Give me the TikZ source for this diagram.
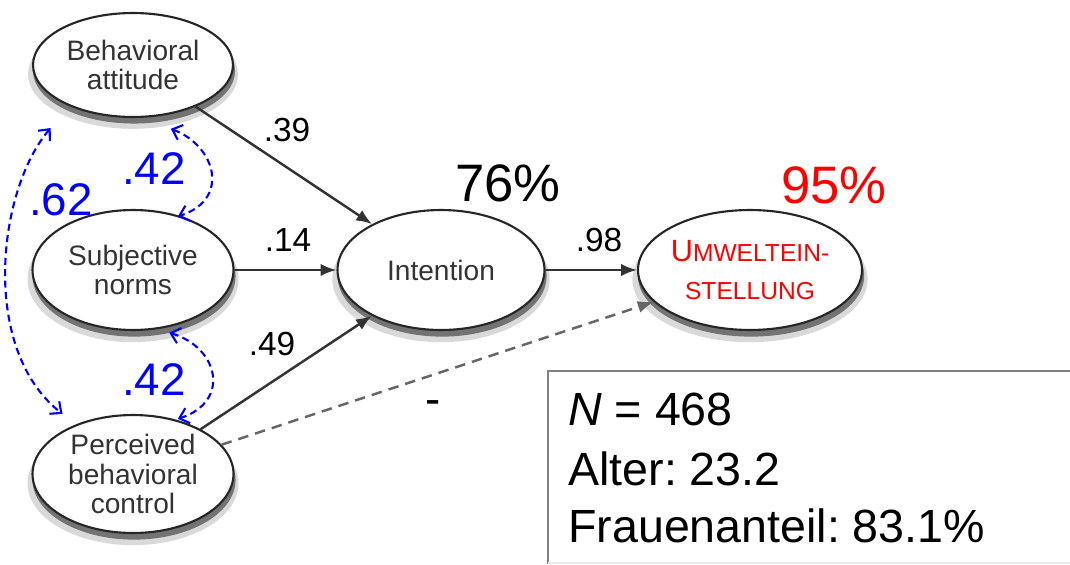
\documentclass[tikz,border=0pt]{standalone}
\usepackage{fontspec}
\setmainfont{Liberation Sans}
\usetikzlibrary{arrows.meta,shapes.geometric,shadows}
\frenchspacing
\begin{document}
\begin{tikzpicture}[x=0.02cm,y=-0.02cm,
  ellip/.style={ellipse, draw=black!85, line width=1.2pt, fill=white, inner sep=0pt, align=center,
    text=black!80, font=\fontsize{16}{17}\selectfont,
    drop shadow={shadow xshift=0pt, shadow yshift=-5pt, shadow scale=1.05, fill=black!15, opacity=1},
    drop shadow={shadow xshift=0.6pt, shadow yshift=-3.4pt, shadow scale=1.01, fill=black!55, opacity=1}},
  solidarrow/.style={draw=black!80, line width=1.4pt, -{Latex[length=9pt,width=7pt]}},
  dasharrow/.style={draw=black!60, line width=1.4pt, dash pattern=on 6pt off 4pt, -{Latex[length=9pt,width=7pt]}},
  corr/.style={draw=blue, line width=1.2pt, dash pattern=on 4pt off 2.5pt,
    {Straight Barb[length=5pt,width=9pt]}-{Straight Barb[length=5pt,width=9pt]}},
  coef/.style={font=\fontsize{19}{22}\selectfont, inner sep=0pt},
  bigcoef/.style={font=\fontsize{26}{30}\selectfont, text=blue, inner sep=0pt},
  rsq/.style={font=\fontsize{30}{34}\selectfont, inner sep=0pt},
  info/.style={font=\fontsize{26.5}{30}\selectfont, inner sep=0pt, anchor=base west}]

\useasboundingbox (0,0) rectangle (1070,564);
\fill[white] (0,0) rectangle (1070,564);

% latent variables
\node[ellip, minimum width=4cm, minimum height=2.08cm] (BA) at (133,65) {Behavioral\\attitude};
\node[ellip, minimum width=4.02cm, minimum height=2.4cm] (SN) at (133,270) {Subjective\\norms};
\node[ellip, minimum width=4.02cm, minimum height=2.36cm] (PBC) at (133,474) {Perceived\\behavioral\\control};
\node[ellip, minimum width=4.14cm, minimum height=2.4cm] (INT) at (441,270) {Intention};
\node[ellip, minimum width=4.1cm, minimum height=2.4cm, text=red, font=\fontsize{14}{22}\selectfont] (UMW) at (750,270)
  {{\fontsize{17.5}{22}\selectfont U}MWELTEIN-\\STELLUNG};

% paths
\draw[solidarrow] (BA) -- (INT);
\draw[solidarrow] (SN) -- (INT);
\draw[solidarrow] (PBC) -- (INT);
\draw[solidarrow] (INT) -- (UMW);
\draw[dasharrow] (PBC) -- (UMW);

% correlations
\draw[corr] ([shift={(3,14)}]BA.-55) .. controls +(45,17) and +(53,-17) .. ([shift={(3,2)}]SN.53);
\draw[corr] ([shift={(3,5)}]SN.-60) .. controls +(50,15) and +(53,-17) .. ([shift={(1,-1)}]PBC.51);
\draw[corr] ([shift={(-26,19)}]BA.-142) .. controls +(-53,62) and +(-83,-65) .. ([shift={(-12,-11)}]PBC.140);

% labels
\node[coef] (l39) at (287,130) {.39};
\node[coef] (l14) at (288,240) {.14};
\node[coef] (l49) at (272,344) {.49};
\node[coef] (l98) at (599,240) {.98};
\node[font=\fontsize{26}{30}\selectfont, inner sep=0pt] (lmin) at (433,408) {-};
\node[bigcoef] (l42a) at (154,169) {.42};
\node[bigcoef] (l42b) at (154,380) {.42};
\node[bigcoef] (l62) at (61,200) {.62};
\node[rsq] (r76) at (508,183) {76\%};
\node[rsq, text=red] (r95) at (834,185) {95\%};

% info box
\draw[black!50, line width=1pt] (1070,371) -- (548,371) -- (548,564);
\draw[black!8, line width=0.8pt] (548,563) -- (1070,563);
\node[info] (iN) at (568,425) {\textit{N} = 468};
\node[info] (iA) at (568,485) {Alter: 23.2};
\node[info] (iF) at (568,542) {Frauenanteil: 83.1\%};
\end{tikzpicture}
\end{document}
